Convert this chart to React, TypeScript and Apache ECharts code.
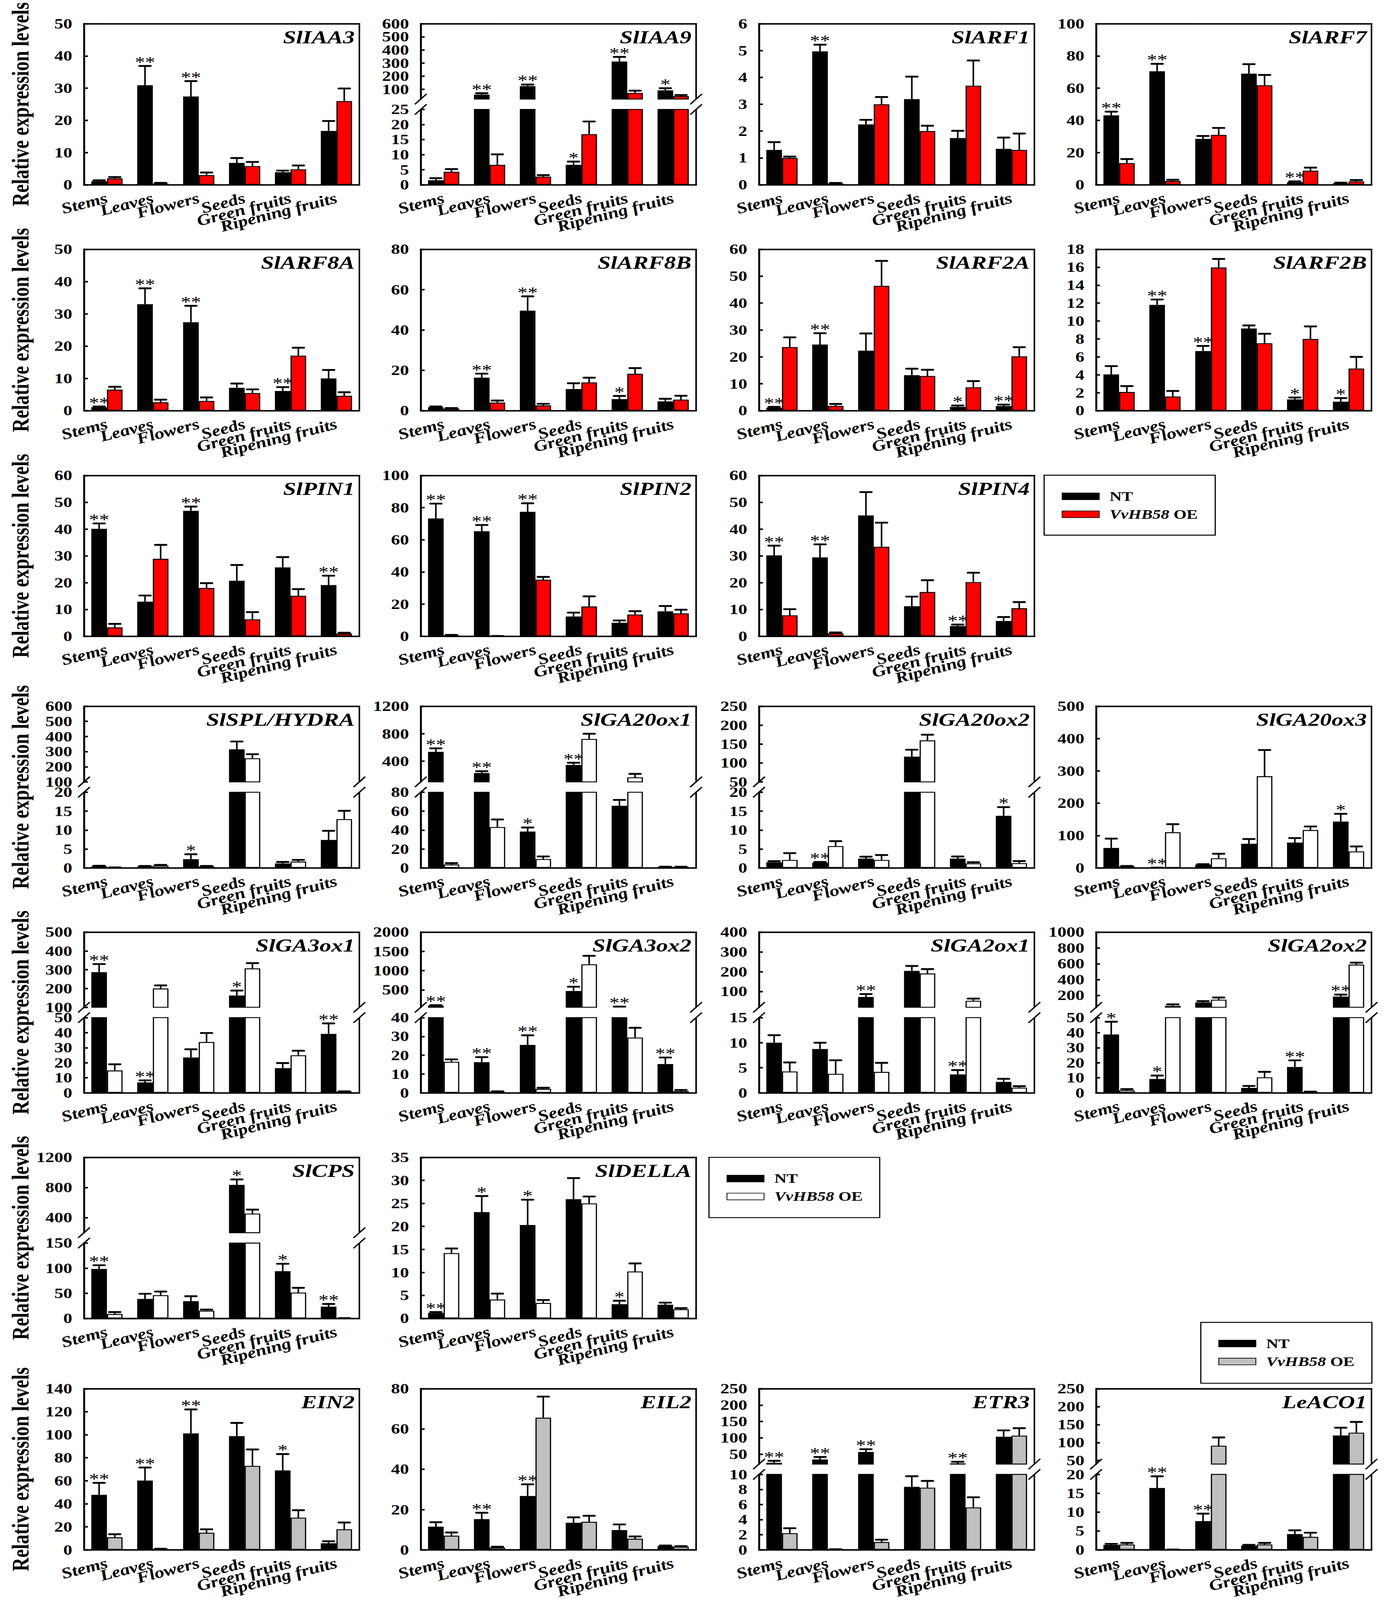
import React, { useEffect, useRef } from "react";
import * as echarts from "echarts";

const W = 3543;
const H = 5256;
const FONT = '"Liberation Serif", "Times New Roman", Times, serif';

const categories = ["Stems", "Leaves", "Flowers", "Seeds", "Green fruits", "Ripening fruits"];

// ---------------- data (NT, NT error, OE, OE error, significance over NT) ----------------
const iaa3NT = [1.1, 30.9, 27.4, 6.8, 3.9, 16.7];
const iaa3NTe = [0.3, 6.0, 4.8, 1.5, 0.5, 3.1];
const iaa3OE = [2.0, 0.4, 3.0, 5.8, 4.8, 26.0];
const iaa3OEe = [0.4, 0.2, 0.8, 1.3, 1.2, 3.9];
const iaa3Sig = ["", "**", "**", "", "", ""];

const iaa9NT = [1.5, 59, 124, 6.6, 312, 92];
const iaa9NTe = [0.7, 11, 12, 1.1, 35, 16];
const iaa9OE = [4.3, 6.6, 2.7, 16.8, 72, 48];
const iaa9OEe = [0.9, 3.5, 0.5, 4.2, 17, 8];
const iaa9Sig = ["", "**", "**", "*", "**", "*"];
const iaa9UpTicks = [100, 200, 300, 400, 500, 600];

const arf1NT = [1.3, 4.97, 2.25, 3.19, 1.74, 1.34];
const arf1NTe = [0.29, 0.25, 0.17, 0.84, 0.27, 0.42];
const arf1OE = [1.0, 0.05, 3.0, 2.0, 3.69, 1.3];
const arf1OEe = [0.05, 0.02, 0.27, 0.2, 0.94, 0.61];
const arf1Sig = ["", "**", "", "", "", ""];

const arf7NT = [43.1, 70.5, 28.5, 69, 1.6, 0.9];
const arf7NTe = [2.3, 4.6, 1.8, 5.9, 0.5, 0.4];
const arf7OE = [13.5, 2.35, 31, 61.8, 8.75, 2.16];
const arf7OEe = [2.5, 0.8, 4.3, 6.4, 1.9, 0.8];
const arf7Sig = ["**", "**", "", "", "**", ""];

const arf8aNT = [1.05, 33, 27.4, 7.1, 6.1, 10.0];
const arf8aNTe = [0.25, 4.9, 5.1, 1.3, 1.2, 2.6];
const arf8aOE = [6.5, 2.6, 3.0, 5.45, 17.05, 4.6];
const arf8aOEe = [0.9, 0.8, 1.1, 1.15, 2.45, 1.1];
const arf8aSig = ["**", "**", "**", "", "**", ""];

const arf8bNT = [1.7, 16.35, 49.6, 10.7, 5.7, 4.6];
const arf8bNTe = [0.35, 2.0, 7.1, 2.9, 1.6, 1.3];
const arf8bOE = [1.0, 4.0, 2.6, 14.0, 18.3, 5.5];
const arf8bOEe = [0.3, 1.0, 0.8, 2.35, 2.8, 1.9];
const arf8bSig = ["", "**", "**", "", "*", ""];

const arf2aNT = [1.1, 24.6, 22.3, 13.2, 1.4, 1.7];
const arf2aNTe = [0.3, 4.2, 6.4, 2.4, 0.5, 0.55];
const arf2aOE = [23.65, 1.8, 46.4, 12.9, 8.7, 20.2];
const arf2aOEe = [3.6, 0.7, 9.3, 2.3, 2.3, 3.4];
const arf2aSig = ["**", "**", "", "", "*", "**"];

const arf2bNT = [4.04, 11.8, 6.65, 9.16, 1.25, 1.0];
const arf2bNTe = [0.93, 0.6, 0.57, 0.35, 0.22, 0.4];
const arf2bOE = [2.08, 1.58, 15.97, 7.52, 8.0, 4.7];
const arf2bOEe = [0.66, 0.62, 0.96, 1.06, 1.4, 1.3];
const arf2bSig = ["", "**", "**", "", "*", "*"];

const pin1NT = [40.1, 12.9, 46.8, 20.7, 25.7, 19.1];
const pin1NTe = [2.0, 2.3, 1.6, 5.9, 3.85, 3.5];
const pin1OE = [3.3, 28.9, 18.0, 6.3, 15.1, 1.0];
const pin1OEe = [1.3, 5.2, 1.8, 2.7, 2.5, 0.3];
const pin1Sig = ["**", "", "**", "", "", "**"];

const pin2NT = [73.3, 65.3, 77.4, 12.3, 8.4, 15.5];
const pin2NTe = [9.2, 3.9, 5.3, 2.4, 1.4, 3.3];
const pin2OE = [0.6, 0.1, 35.2, 18.5, 13.5, 14.2];
const pin2OEe = [0.2, 0.05, 1.7, 6.3, 2.1, 2.3];
const pin2Sig = ["**", "**", "**", "", "", ""];

const pin4NT = [30.2, 29.4, 45.1, 11.2, 3.8, 5.7];
const pin4NTe = [3.6, 4.9, 8.7, 3.6, 0.55, 1.45];
const pin4OE = [7.8, 1.1, 33.4, 16.5, 20.2, 10.45];
const pin4OEe = [2.3, 0.3, 9.0, 4.4, 3.5, 2.3];
const pin4Sig = ["**", "**", "", "", "**", ""];

const splNT = [0.45, 0.4, 2.3, 315, 1.16, 7.4];
const splNTe = [0.1, 0.1, 1.3, 52, 0.4, 2.4];
const splOE = [0.1, 0.6, 0.4, 256, 1.67, 12.9];
const splOEe = [0.02, 0.2, 0.1, 27, 0.45, 2.2];
const splSig = ["", "", "*", "", "", ""];
const splUpTicks = [100, 200, 300, 400, 500, 600];

const ga20ox1NT = [536, 229, 38.4, 346, 65.7, 1.0];
const ga20ox1NTe = [52, 26, 4.3, 32, 6.2, 0.2];
const ga20ox1OE = [3.6, 43.2, 9.3, 724, 166, 1.0];
const ga20ox1OEe = [1.4, 8, 2.8, 76, 50, 0.2];
const ga20ox1Sig = ["**", "**", "*", "**", "", ""];
const ga20ox1UpTicks = [400, 800, 1200];

const ga20ox2NT = [1.48, 1.36, 2.46, 116.7, 2.46, 13.76];
const ga20ox2NTe = [0.3, 0.2, 0.5, 18.4, 0.55, 2.3];
const ga20ox2OE = [2.1, 5.77, 2.1, 159.8, 1.2, 1.25];
const ga20ox2OEe = [1.8, 1.3, 1.3, 15, 0.3, 0.55];
const ga20ox2Sig = ["", "**", "", "", "", "*"];
const ga20ox2UpTicks = [50, 100, 150, 200, 250];

const ga20ox3NT = [61.8, 0.5, 10, 74.6, 78.2, 143.2];
const ga20ox3NTe = [28.8, 0.2, 1.5, 14.6, 14, 24];
const ga20ox3OE = [5, 110.2, 29.7, 283.6, 117.1, 50.8];
const ga20ox3OEe = [1, 25, 14, 81, 11, 15.5];
const ga20ox3Sig = ["", "**", "", "", "", "*"];

const ga3ox1NT = [287, 6.9, 23.5, 163, 16.4, 39.2];
const ga3ox1NTe = [43, 1.4, 5.5, 26, 3.4, 7];
const ga3ox1OE = [14.9, 200, 33.8, 307, 25, 0.8];
const ga3ox1OEe = [4.1, 16.5, 6, 28, 3, 0.2];
const ga3ox1Sig = ["**", "**", "", "*", "", "**"];
const ga3ox1UpTicks = [100, 200, 300, 400, 500];

const ga3ox2NT = [92, 16.3, 25.5, 473, 60, 15.3];
const ga3ox2NTe = [12, 2.7, 5.1, 111, 8, 3.5];
const ga3ox2OE = [16.5, 0.6, 2.1, 1164, 29.4, 0.94];
const ga3ox2OEe = [1.3, 0.2, 0.6, 222, 5.2, 0.6];
const ga3ox2Sig = ["**", "**", "**", "*", "**", "**"];
const ga3ox2UpTicks = [500, 1000, 1500, 2000];

const ga2ox1NT = [10.0, 8.75, 72.4, 204, 3.68, 2.18];
const ga2ox1NTe = [1.5, 1.25, 14.6, 25, 0.86, 0.62];
const ga2ox1OE = [4.27, 3.8, 4.18, 191, 53, 1.03];
const ga2ox1OEe = [1.8, 2.7, 1.8, 22, 11, 0.3];
const ga2ox1Sig = ["", "", "**", "", "**", ""];
const ga2ox1UpTicks = [100, 200, 300, 400];

const ga2ox2NT = [38.8, 9.2, 111, 3.3, 17.2, 185];
const ga2ox2NTe = [8.5, 2.3, 17, 1.3, 4.4, 26];
const ga2ox2OE = [1.7, 70, 146, 10.3, 0.6, 590];
const ga2ox2OEe = [0.8, 18, 28, 3.7, 0.2, 24];
const ga2ox2Sig = ["*", "*", "", "", "**", "**"];
const ga2ox2UpTicks = [200, 400, 600, 800, 1000];

const cpsNT = [98.5, 38.8, 34.4, 835, 94.1, 23.5];
const cpsNTe = [7.4, 10.3, 9.7, 72, 14.7, 5.3];
const cpsOE = [8.8, 46.2, 15.3, 454.5, 51.5, 0.5];
const cpsOEe = [3.8, 7.3, 2.3, 52, 9.4, 0.1];
const cpsSig = ["**", "", "", "*", "*", "**"];
const cpsUpTicks = [400, 800, 1200];

const dellaNT = [1.18, 23.1, 20.3, 25.9, 3.1, 2.98];
const dellaNTe = [0.2, 3.5, 5.5, 4.6, 0.74, 0.45];
const dellaOE = [14.2, 4.1, 3.36, 25, 10.2, 1.99];
const dellaOEe = [1.0, 1.3, 0.64, 1.5, 1.75, 0.25];
const dellaSig = ["**", "*", "*", "", "*", ""];

const ein2NT = [47.8, 60.2, 101.2, 98.8, 69, 5.7];
const ein2NTe = [10.4, 11.3, 20.8, 11.5, 14.2, 1.7];
const ein2OE = [10.9, 0.6, 14.8, 72.9, 27.9, 17.8];
const ein2OEe = [2.6, 0.3, 3.0, 14.3, 6.5, 5.9];
const ein2Sig = ["**", "**", "**", "", "*", ""];

const eil2NT = [11.5, 15.2, 26.7, 13.4, 9.8, 1.8];
const eil2NTe = [2.2, 3.2, 5.8, 2.7, 2.8, 0.3];
const eil2OE = [7.0, 1.1, 65.6, 13.9, 5.5, 1.5];
const eil2OEe = [1.6, 0.4, 10.5, 3.0, 1.1, 0.3];
const eil2Sig = ["", "**", "**", "", "", ""];

const etr3NT = [24, 34, 56.9, 8.36, 22, 103.4];
const etr3NTe = [6, 7.7, 8.5, 1.4, 5, 19.5];
const etr3OE = [2.2, 0.05, 1.03, 8.24, 5.62, 106.9];
const etr3OEe = [0.66, 0.02, 0.31, 0.9, 1.35, 22.8];
const etr3Sig = ["**", "**", "**", "", "**", ""];
const etr3UpTicks = [50, 100, 150, 200, 250];

const aco1NT = [1.3, 16.4, 7.6, 1.08, 4.17, 119.7];
const aco1NTe = [0.27, 3.1, 2.0, 0.22, 1.0, 21.8];
const aco1OE = [1.42, 0.05, 91.2, 1.42, 3.43, 127.5];
const aco1OEe = [0.4, 0.02, 23, 0.4, 1.1, 30];
const aco1Sig = ["", "**", "**", "", "", ""];
const aco1UpTicks = [50, 100, 150, 200, 250];

// ---------------- layout & style ----------------
const COL_X = [215, 1077, 1943, 2806];
const PW = 705;
const ROW_T = [78, 819, 1562, 2320, 3062, 3802, 4562];
const ROW_B = [607, 1349, 2090, 2851, 3590, 4331, 5091];
const GAP = 34;
const BAR_W = 40;

const RED = "#ff0000";
const WHITE = "#ffffff";
const GRAY = "#c0c0c0";
const OE_NAME: Record<string, string> = {
  [RED]: "VvHB58 OE",
  [WHITE]: "VvHB58 OE ",
  [GRAY]: "VvHB58 OE  ",
};

type Up = { min: number; max: number; ticks: number[] };
type Panel = {
  title: string;
  row: number;
  col: number;
  nt: number[];
  ntE: number[];
  oe: number[];
  oeE: number[];
  sig: string[];
  color: string;
  lowMax: number;
  lowInt: number;
  up?: Up;
};

const panels: Panel[] = [
  { title: "SlIAA3", row: 0, col: 0, nt: iaa3NT, ntE: iaa3NTe, oe: iaa3OE, oeE: iaa3OEe, sig: iaa3Sig, color: RED, lowMax: 50, lowInt: 10 },
  { title: "SlIAA9", row: 0, col: 1, nt: iaa9NT, ntE: iaa9NTe, oe: iaa9OE, oeE: iaa9OEe, sig: iaa9Sig, color: RED, lowMax: 25, lowInt: 5, up: { min: 25, max: 600, ticks: iaa9UpTicks } },
  { title: "SlARF1", row: 0, col: 2, nt: arf1NT, ntE: arf1NTe, oe: arf1OE, oeE: arf1OEe, sig: arf1Sig, color: RED, lowMax: 6, lowInt: 1 },
  { title: "SlARF7", row: 0, col: 3, nt: arf7NT, ntE: arf7NTe, oe: arf7OE, oeE: arf7OEe, sig: arf7Sig, color: RED, lowMax: 100, lowInt: 20 },
  { title: "SlARF8A", row: 1, col: 0, nt: arf8aNT, ntE: arf8aNTe, oe: arf8aOE, oeE: arf8aOEe, sig: arf8aSig, color: RED, lowMax: 50, lowInt: 10 },
  { title: "SlARF8B", row: 1, col: 1, nt: arf8bNT, ntE: arf8bNTe, oe: arf8bOE, oeE: arf8bOEe, sig: arf8bSig, color: RED, lowMax: 80, lowInt: 20 },
  { title: "SlARF2A", row: 1, col: 2, nt: arf2aNT, ntE: arf2aNTe, oe: arf2aOE, oeE: arf2aOEe, sig: arf2aSig, color: RED, lowMax: 60, lowInt: 10 },
  { title: "SlARF2B", row: 1, col: 3, nt: arf2bNT, ntE: arf2bNTe, oe: arf2bOE, oeE: arf2bOEe, sig: arf2bSig, color: RED, lowMax: 18, lowInt: 2 },
  { title: "SlPIN1", row: 2, col: 0, nt: pin1NT, ntE: pin1NTe, oe: pin1OE, oeE: pin1OEe, sig: pin1Sig, color: RED, lowMax: 60, lowInt: 10 },
  { title: "SlPIN2", row: 2, col: 1, nt: pin2NT, ntE: pin2NTe, oe: pin2OE, oeE: pin2OEe, sig: pin2Sig, color: RED, lowMax: 100, lowInt: 20 },
  { title: "SlPIN4", row: 2, col: 2, nt: pin4NT, ntE: pin4NTe, oe: pin4OE, oeE: pin4OEe, sig: pin4Sig, color: RED, lowMax: 60, lowInt: 10 },
  { title: "SlSPL/HYDRA", row: 3, col: 0, nt: splNT, ntE: splNTe, oe: splOE, oeE: splOEe, sig: splSig, color: WHITE, lowMax: 20, lowInt: 5, up: { min: 100, max: 600, ticks: splUpTicks } },
  { title: "SlGA20ox1", row: 3, col: 1, nt: ga20ox1NT, ntE: ga20ox1NTe, oe: ga20ox1OE, oeE: ga20ox1OEe, sig: ga20ox1Sig, color: WHITE, lowMax: 80, lowInt: 20, up: { min: 100, max: 1200, ticks: ga20ox1UpTicks } },
  { title: "SlGA20ox2", row: 3, col: 2, nt: ga20ox2NT, ntE: ga20ox2NTe, oe: ga20ox2OE, oeE: ga20ox2OEe, sig: ga20ox2Sig, color: WHITE, lowMax: 20, lowInt: 5, up: { min: 50, max: 250, ticks: ga20ox2UpTicks } },
  { title: "SlGA20ox3", row: 3, col: 3, nt: ga20ox3NT, ntE: ga20ox3NTe, oe: ga20ox3OE, oeE: ga20ox3OEe, sig: ga20ox3Sig, color: WHITE, lowMax: 500, lowInt: 100 },
  { title: "SlGA3ox1", row: 4, col: 0, nt: ga3ox1NT, ntE: ga3ox1NTe, oe: ga3ox1OE, oeE: ga3ox1OEe, sig: ga3ox1Sig, color: WHITE, lowMax: 50, lowInt: 10, up: { min: 100, max: 500, ticks: ga3ox1UpTicks } },
  { title: "SlGA3ox2", row: 4, col: 1, nt: ga3ox2NT, ntE: ga3ox2NTe, oe: ga3ox2OE, oeE: ga3ox2OEe, sig: ga3ox2Sig, color: WHITE, lowMax: 40, lowInt: 10, up: { min: 50, max: 2000, ticks: ga3ox2UpTicks } },
  { title: "SlGA2ox1", row: 4, col: 2, nt: ga2ox1NT, ntE: ga2ox1NTe, oe: ga2ox1OE, oeE: ga2ox1OEe, sig: ga2ox1Sig, color: WHITE, lowMax: 15, lowInt: 5, up: { min: 20, max: 400, ticks: ga2ox1UpTicks } },
  { title: "SlGA2ox2", row: 4, col: 3, nt: ga2ox2NT, ntE: ga2ox2NTe, oe: ga2ox2OE, oeE: ga2ox2OEe, sig: ga2ox2Sig, color: WHITE, lowMax: 50, lowInt: 10, up: { min: 50, max: 1000, ticks: ga2ox2UpTicks } },
  { title: "SlCPS", row: 5, col: 0, nt: cpsNT, ntE: cpsNTe, oe: cpsOE, oeE: cpsOEe, sig: cpsSig, color: WHITE, lowMax: 150, lowInt: 50, up: { min: 200, max: 1200, ticks: cpsUpTicks } },
  { title: "SlDELLA", row: 5, col: 1, nt: dellaNT, ntE: dellaNTe, oe: dellaOE, oeE: dellaOEe, sig: dellaSig, color: WHITE, lowMax: 35, lowInt: 5 },
  { title: "EIN2", row: 6, col: 0, nt: ein2NT, ntE: ein2NTe, oe: ein2OE, oeE: ein2OEe, sig: ein2Sig, color: GRAY, lowMax: 140, lowInt: 20 },
  { title: "EIL2", row: 6, col: 1, nt: eil2NT, ntE: eil2NTe, oe: eil2OE, oeE: eil2OEe, sig: eil2Sig, color: GRAY, lowMax: 80, lowInt: 20 },
  { title: "ETR3", row: 6, col: 2, nt: etr3NT, ntE: etr3NTe, oe: etr3OE, oeE: etr3OEe, sig: etr3Sig, color: GRAY, lowMax: 10, lowInt: 2, up: { min: 20, max: 250, ticks: etr3UpTicks } },
  { title: "LeACO1", row: 6, col: 3, nt: aco1NT, ntE: aco1NTe, oe: aco1OE, oeE: aco1OEe, sig: aco1Sig, color: GRAY, lowMax: 20, lowInt: 5, up: { min: 40, max: 250, ticks: aco1UpTicks } },
];

const legendBoxes = [
  { x: 2673, y: 1561, w: 438, h: 197, color: RED },
  { x: 1815, y: 3802, w: 437, h: 198, color: WHITE },
  { x: 3074, y: 4344, w: 438, h: 200, color: GRAY },
];

const AXIS_W = 5;
const lineStyle = { color: "#000", width: AXIS_W };
const tickLabel = { color: "#000", fontFamily: FONT, fontSize: 46, fontWeight: "bold" as const };

type Seg = { kind: "up" | "low" | "single"; top: number; height: number; min: number; max: number; interval?: number; ticks?: number[] };

function tickValues(s: Seg): number[] {
  if (s.ticks) return s.ticks;
  const out: number[] = [];
  const step = s.interval as number;
  for (let k = 0; s.min + k * step <= s.max + 1e-9; k++) out.push(+(s.min + k * step).toFixed(6));
  return out;
}

function buildOption() {
  const grids: any[] = [];
  const xAxes: any[] = [];
  const yAxes: any[] = [];
  const series: any[] = [];
  const titles: any[] = [];
  const graphics: any[] = [];

  panels.forEach((p) => {
    const left = COL_X[p.col];
    const top = ROW_T[p.row];
    const bottom = ROW_B[p.row];
    const h = bottom - top;
    const half = (h - GAP) / 2;
    const segs: Seg[] = p.up
      ? [
          { kind: "up", top, height: half, min: p.up.min, max: p.up.max, ticks: p.up.ticks },
          { kind: "low", top: top + half + GAP, height: half, min: 0, max: p.lowMax, interval: p.lowInt },
        ]
      : [{ kind: "single", top, height: h, min: 0, max: p.lowMax, interval: p.lowInt }];

    segs.forEach((s, si) => {
      const gi = grids.length;
      grids.push({ left, top: s.top, width: PW, height: s.height, containLabel: false, outerBoundsMode: "none" });
      const isTop = si === 0;
      const isBottom = si === segs.length - 1;
      const xi = xAxes.length;
      xAxes.push({
        type: "category",
        gridIndex: gi,
        data: categories,
        position: "bottom",
        show: isBottom,
        axisLine: { show: true, onZero: false, lineStyle },
        axisTick: { show: false },
        axisLabel: {
          show: isBottom,
          interval: 0,
          rotate: 18,
          margin: 42,
          color: "#000",
          fontFamily: FONT,
          fontSize: 50,
          fontWeight: "bold",
          fontStyle: "italic",
          hideOverlap: false,
        },
        splitLine: { show: false },
      });
      if (isTop) {
        xAxes.push({
          type: "category",
          gridIndex: gi,
          data: categories,
          position: "top",
          axisLine: { show: true, onZero: false, lineStyle },
          axisTick: { show: false },
          axisLabel: { show: false },
          splitLine: { show: false },
        });
      }

      // ---- y axes: one carries the line and ticks, overlaid ones carry groups of labels ----
      const vals = tickValues(s);
      const pxOf = (v: number) => ((v - s.min) / (s.max - s.min)) * s.height;
      const near =
        s.kind === "up" ? vals.filter((v) => pxOf(v) < 24) : s.kind === "low" ? vals.filter((v) => v === s.max) : [];
      const rest = vals.filter((v) => near.indexOf(v) < 0);
      const even = rest.filter((_, k) => k % 2 === 0);
      const odd = rest.filter((_, k) => k % 2 === 1);
      const labelBase = {
        ...tickLabel,
        margin: 30,
        showMinLabel: true,
        showMaxLabel: true,
        hideOverlap: false,
        formatter: (v: number) => String(v),
      };
      const yi = yAxes.length;
      yAxes.push({
        type: "value",
        gridIndex: gi,
        position: "left",
        min: s.min,
        max: s.max,
        axisLine: { show: true, lineStyle },
        axisTick: { show: true, inside: true, length: 10, customValues: vals, lineStyle: { color: "#000", width: 5 } },
        axisLabel: { ...labelBase, customValues: even },
        splitLine: { show: false },
      });
      const labelAxis = (values: number[], padding?: number[]) => ({
        type: "value",
        gridIndex: gi,
        position: "left",
        offset: 0,
        min: s.min,
        max: s.max,
        axisLine: { show: false },
        axisTick: { show: false },
        axisLabel: padding ? { ...labelBase, customValues: values, padding } : { ...labelBase, customValues: values },
        splitLine: { show: false },
      });
      if (odd.length) yAxes.push(labelAxis(odd));
      if (near.length) yAxes.push(labelAxis(near, s.kind === "up" ? [0, 0, 24, 0] : [24, 0, 0, 0]));
      yAxes.push({
        type: "value",
        gridIndex: gi,
        position: "right",
        min: s.min,
        max: s.max,
        axisLine: { show: true, lineStyle: { color: "#000", width: 4 } },
        axisTick: { show: false },
        axisLabel: { show: false },
        splitLine: { show: false },
      });

      const inSeg = (v: number) => (s.kind === "up" ? v >= s.min && v <= s.max : v <= s.max);
      const barData = (arr: number[]) => arr.map((v) => (s.kind === "up" && v < s.min ? "-" : v));

      series.push({
        type: "bar",
        name: "NT",
        xAxisIndex: xi,
        yAxisIndex: yi,
        data: barData(p.nt),
        barWidth: BAR_W,
        barGap: "0%",
        clip: true,
        silent: true,
        itemStyle: { color: "#000", borderColor: "#000", borderWidth: 3 },
      });
      series.push({
        type: "bar",
        name: OE_NAME[p.color],
        xAxisIndex: xi,
        yAxisIndex: yi,
        data: barData(p.oe),
        barWidth: BAR_W,
        barGap: "0%",
        clip: true,
        silent: true,
        itemStyle: { color: p.color, borderColor: "#000", borderWidth: 3 },
      });

      const items: { i: number; v: number; e: number; side: number; sig: string }[] = [];
      p.nt.forEach((v, i) => {
        if (inSeg(v)) items.push({ i, v, e: p.ntE[i], side: -1, sig: p.sig[i] });
      });
      p.oe.forEach((v, i) => {
        if (inSeg(v)) items.push({ i, v, e: p.oeE[i], side: 1, sig: "" });
      });
      series.push({
        type: "custom",
        coordinateSystem: "cartesian2d",
        xAxisIndex: xi,
        yAxisIndex: yi,
        silent: true,
        z: 5,
        data: items.map((d) => [d.i, d.v, d.e]),
        encode: { x: 0, y: 1 },
        renderItem: (params: any, api: any) => {
          const d = items[params.dataIndex];
          const b = api.coord([d.i, d.v]);
          const c = api.coord([d.i, d.v + d.e]);
          const x = b[0] + (d.side * BAR_W) / 2;
          const children: any[] = [
            { type: "line", shape: { x1: x, y1: b[1], x2: x, y2: c[1] }, style: { stroke: "#000", lineWidth: 4 } },
            { type: "line", shape: { x1: x - 14, y1: c[1], x2: x + 14, y2: c[1] }, style: { stroke: "#000", lineWidth: 6, lineCap: "round" } },
          ];
          if (d.sig) {
            children.push({
              type: "text",
              x,
              y: c[1] - 14,
              style: { text: d.sig, fontFamily: FONT, fontSize: 52, fill: "#000", align: "center", verticalAlign: "middle" },
            });
          }
          return { type: "group", children };
        },
      });
    });

    // break marks
    if (p.up) {
      const ys = [top + half, top + half + GAP];
      [left, left + PW].forEach((x) => {
        ys.forEach((y) => {
          graphics.push({
            type: "line",
            shape: { x1: x - 15, y1: y + 17, x2: x + 15, y2: y - 17 },
            style: { stroke: "#000", lineWidth: 4 },
            z: 10,
          });
        });
      });
    }

    titles.push({
      text: p.title,
      right: W - (left + PW) + 12,
      top: top + 14,
      padding: 0,
      textStyle: { fontFamily: FONT, fontSize: 60, fontWeight: "bold", fontStyle: "italic", color: "#000" },
    });
  });

  // row y-axis names
  ROW_T.forEach((t, r) => {
    graphics.push({
      type: "text",
      x: 52,
      y: (t + ROW_B[r]) / 2,
      rotation: Math.PI / 2,
      style: {
        text: "Relative expression levels",
        fontFamily: FONT,
        fontSize: 62,
        fontWeight: "bold",
        fill: "#000",
        align: "center",
        verticalAlign: "middle",
      },
    });
  });

  // legend boxes
  const legends: any[] = [];
  legendBoxes.forEach((lb) => {
    graphics.push({
      type: "rect",
      shape: { x: lb.x, y: lb.y, width: lb.w, height: lb.h },
      style: { fill: "none", stroke: "#000", lineWidth: 3 },
    });
    legends.push({
      orient: "vertical",
      left: lb.x + 45,
      top: lb.y + 48,
      padding: 0,
      itemWidth: 95,
      itemHeight: 22,
      itemGap: 16,
      selectedMode: false,
      icon: "rect",
      data: ["NT", OE_NAME[lb.color]],
      formatter: (name: string) => (name === "NT" ? "  {n|NT}" : "  {i|VvHB58} {n|OE}"),
      textStyle: {
        fontFamily: FONT,
        fontSize: 43,
        fontWeight: "bold",
        color: "#000",
        rich: {
          n: { fontFamily: FONT, fontSize: 43, fontWeight: "bold", color: "#000" },
          i: { fontFamily: FONT, fontSize: 43, fontWeight: "bold", fontStyle: "italic", color: "#000" },
        },
      },
    });
  });

  return {
    animation: false,
    backgroundColor: "#ffffff",
    title: titles,
    legend: legends,
    grid: grids,
    xAxis: xAxes,
    yAxis: yAxes,
    series,
    graphic: { elements: graphics },
  };
}

export default function App() {
  const ref = useRef<HTMLDivElement>(null);
  // the browser window can be shorter than the figure; fit the whole figure into it
  const sx = typeof window !== "undefined" ? Math.min(1, window.innerWidth / W) : 1;
  const sy = typeof window !== "undefined" ? Math.min(1, window.innerHeight / H) : 1;
  useEffect(() => {
    document.body.style.margin = "0";
    if (!ref.current) return;
    const chart = echarts.init(ref.current, null, { renderer: "svg", width: W, height: H });
    chart.setOption(buildOption() as any);
    return () => chart.dispose();
  }, []);
  return (
    <div style={{ width: W * sx, height: H * sy, overflow: "hidden", background: "#fff" }}>
      <div
        ref={ref}
        style={{ width: W, height: H, background: "#fff", transform: `scale(${sx}, ${sy})`, transformOrigin: "0 0" }}
      />
    </div>
  );
}
